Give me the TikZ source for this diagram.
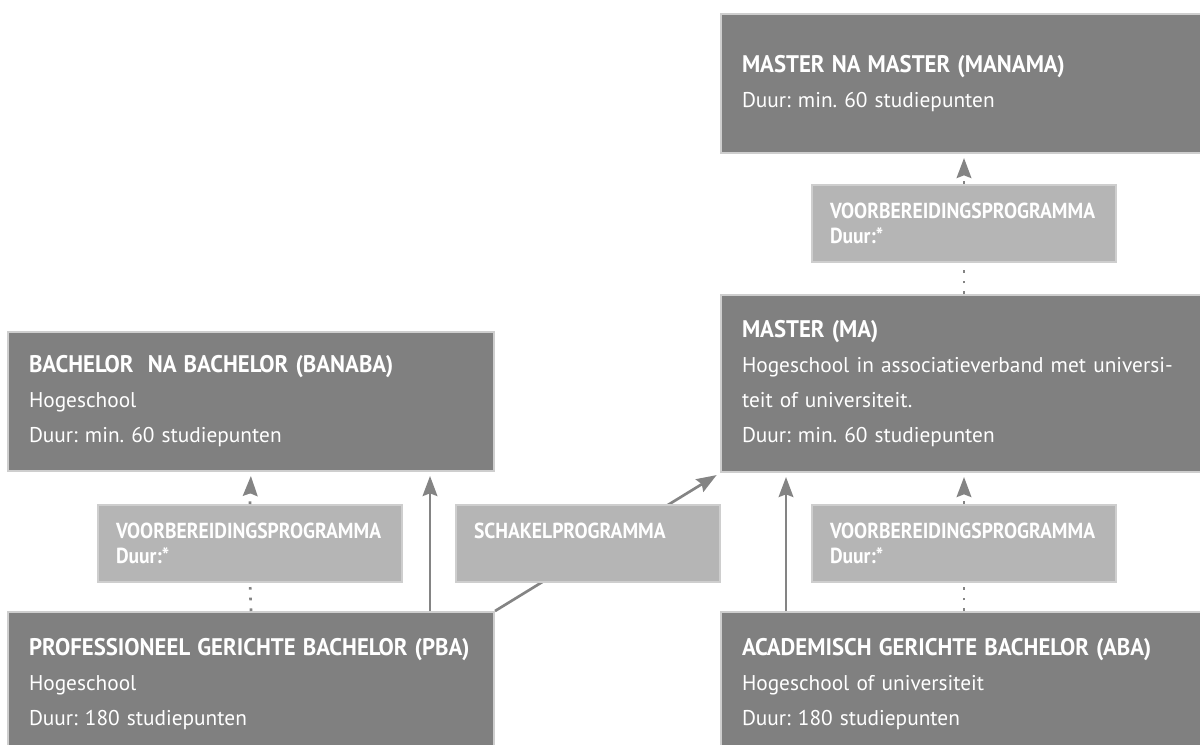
\documentclass[tikz,border=0pt]{standalone}
\usepackage{fontspec}
\setmainfont{PT Sans}
\newfontfamily\dinfont[FakeStretch=0.9]{PT Sans}
\newfontfamily\dintitle[FakeStretch=0.95]{PT Sans}
\usetikzlibrary{arrows.meta, backgrounds}
\definecolor{boxdark}{RGB}{128,128,128}
\definecolor{boxlight}{RGB}{181,181,181}
\definecolor{boxedge}{RGB}{206,206,206}
\definecolor{linkgray}{RGB}{132,132,132}
\newcommand{\progtitle}[1]{\mbox{\dintitle\bfseries\fontsize{18}{26.25}\selectfont #1}}
\frenchspacing

\begin{document}
\begin{tikzpicture}[
    x=0.75pt, y=-0.75pt,
    darkbox/.style={rectangle, fill=boxdark, draw=boxedge, line width=1.5pt, text=white, inner xsep=15.75pt, inner ysep=0pt, text width=333pt, align=left, font=\fontsize{16}{26.25}\selectfont},
    lightbox/.style={rectangle, fill=boxlight, draw=boxedge, line width=1.5pt, text=white, inner xsep=13.5pt, inner ysep=0pt, text width=201pt, minimum height=57.75pt, align=left, font=\dinfont\bfseries\fontsize{16.3}{18.75}\selectfont},
    link/.style={draw=linkgray, line width=2pt, -{Stealth[length=15pt, width=11pt, inset=2pt]}, shorten >=3pt},
    dotlink/.style={draw=linkgray, line width=2pt, dash pattern=on 2pt off 6pt}
]
    \useasboundingbox (0,0) rectangle (1200,744);
    \clip (0,0) rectangle (1200,744);

    % right column
    \node[darkbox, minimum height=104.25pt] (manama) at (964,83.5) {\progtitle{MASTER NA MASTER (MANAMA)}\\ Duur: min. 60 studiepunten};
    \node[lightbox] (voorbma) at (964,223.5) {VOORBEREIDINGSPROGRAMMA\\ Duur:*};
    \node[darkbox, minimum height=132.75pt] (ma) at (964,383.5) {\progtitle{MASTER (MA)}\\ Hogeschool in associatieverband met universi-\\ teit of universiteit.\\ Duur: min. 60 studiepunten};
    \node[lightbox] (voorbaba) at (964,543.5) {VOORBEREIDINGSPROGRAMMA\\ Duur:*};
    \node[darkbox, minimum height=108pt] (aba) at (964,684) {\progtitle{ACADEMISCH GERICHTE BACHELOR (ABA)}\\ Hogeschool of universiteit\\ Duur: 180 studiepunten};

    % left column
    \node[darkbox, minimum height=104.25pt] (banaba) at (251,401.5) {\progtitle{BACHELOR\ \ NA BACHELOR (BANABA)}\\ Hogeschool\\ Duur: min. 60 studiepunten};
    \node[lightbox] (voorbpba) at (250,543.5) {VOORBEREIDINGSPROGRAMMA\\ Duur:*};
    \node[lightbox, text width=171pt] (schakel) at (588,543.5) {SCHAKELPROGRAMMA\\ \mbox{}};
    \node[darkbox, minimum height=108pt] (pba) at (251,684) {\progtitle{PROFESSIONEEL GERICHTE BACHELOR (PBA)}\\ Hogeschool\\ Duur: 180 studiepunten};

    % connectors
    \begin{scope}[on background layer]
        \draw[link] (pba.north east) -- (ma.south west);
    \end{scope}
    \draw[link] ([xshift=134.25pt]pba.north) -- ([xshift=134.25pt]banaba.south);
    \draw[link] ([xshift=-133.5pt]aba.north) -- ([xshift=-133.5pt]ma.south);
    \draw[dotlink] (pba.north) -- (voorbpba.south);
    \draw[dotlink, link] (voorbpba.north) -- (banaba.south);
    \draw[dotlink] (aba.north) -- (voorbaba.south);
    \draw[dotlink, link] (voorbaba.north) -- (ma.south);
    \draw[dotlink] (ma.north) -- (voorbma.south);
    \draw[dotlink, link] (voorbma.north) -- (manama.south);
\end{tikzpicture}
\end{document}
